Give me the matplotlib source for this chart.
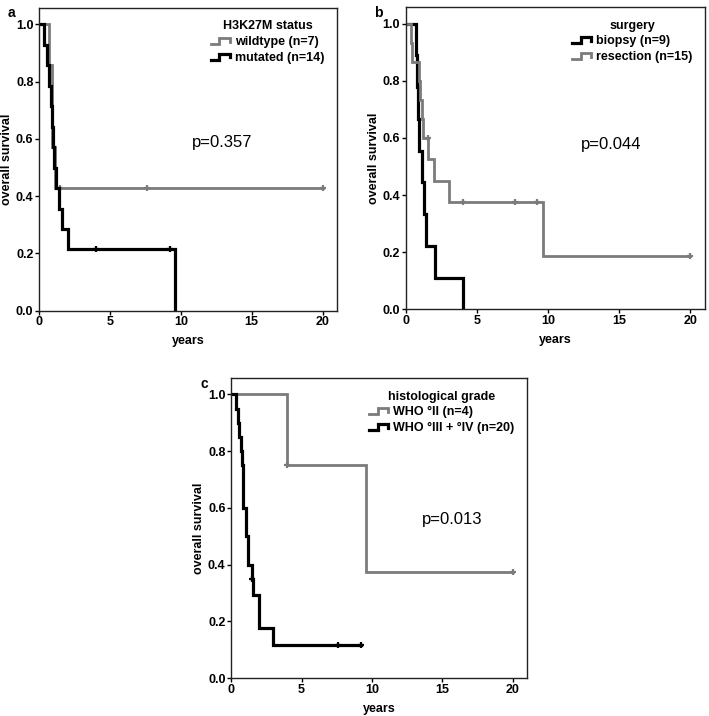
import matplotlib
matplotlib.use("Agg")
import matplotlib.pyplot as plt
from matplotlib.lines import Line2D
from matplotlib.legend_handler import HandlerLine2D

plt.rcParams['font.family'] = ['Liberation Sans', 'DejaVu Sans']

# survival times in years
# panel a: H3K27M status
wild_events = [0.73, 0.89, 0.89, 1.13]
wild_censored = [1.5, 7.6, 20.0]
mut_events = [0.38, 0.54, 0.73, 0.82, 0.89, 1.01, 1.08, 1.2, 1.43, 1.6, 2.02, 9.6]
mut_censored = [4.0, 9.25]

# panel b: surgery
biopsy_events = [0.7, 0.8, 0.85, 0.93, 1.16, 1.28, 1.46, 2.09, 4.06]
biopsy_censored = []
resec_events = [0.37, 0.45, 0.97, 1.0, 1.14, 1.22, 1.6, 2.0, 3.05, 9.63]
resec_censored = [1.55, 4.06, 7.66, 9.23, 20.0]

# panel c: histological grade
g2_events = [3.95, 9.61]
g2_censored = [4.0, 20.0]
g34_events = [0.35, 0.47, 0.59, 0.71, 0.8, 0.87, 0.87, 0.87, 1.04, 1.04,
              1.18, 1.18, 1.47, 1.58, 2.0, 2.0, 2.96]
g34_censored = [1.5, 7.6, 9.2]

x_ticks = [0, 5, 10, 15, 20]
y_ticks = [0.0, 0.2, 0.4, 0.6, 0.8, 1.0]

GRAY = '#7b7b7b'
BLACK = '#000000'


def km_curve(events, censored):
    times = sorted(set(events) | set(censored))
    n = len(events) + len(censored)
    s = 1.0
    xs, ys = [0.0], [1.0]
    cx, cy = [], []
    for t in times:
        d = events.count(t)
        c = censored.count(t)
        if d:
            s = s * (1 - d / n)
        xs.append(t)
        ys.append(s)
        if c:
            cx.append(t)
            cy.append(s)
        n -= d + c
    return xs, ys, cx, cy


class StepHandler(HandlerLine2D):
    # legend icon shaped like a little survival step
    def create_artists(self, legend, orig_handle, xdescent, ydescent,
                       width, height, fontsize, trans):
        x0 = -xdescent
        y0 = -ydescent
        xs = [x0, x0 + 0.45 * width, x0 + 0.45 * width, x0 + width, x0 + width]
        ys = [y0 + 0.15 * height, y0 + 0.15 * height, y0 + 0.8 * height,
              y0 + 0.8 * height, y0 + 0.4 * height]
        ln = Line2D(xs, ys, color=orig_handle.get_color(),
                    lw=orig_handle.get_linewidth(), solid_joinstyle='miter')
        ln.set_transform(trans)
        return [ln]


def draw_panel(ax, groups, title, pval, pxy, letter):
    handles = []
    for events, censored, color, lw, label in groups:
        xs, ys, cx, cy = km_curve(events, censored)
        ln, = ax.step(xs, ys, where='post', color=color, lw=lw,
                      solid_joinstyle='miter', label=label)
        ax.plot(cx, cy, ls='none', marker='+', ms=4, mew=1.6, color=color)
        handles.append(ln)
    ax.set_xlim(0, 21)
    ax.set_ylim(0, 1.058)
    ax.set_xticks(x_ticks)
    ax.set_yticks(y_ticks)
    ax.set_yticklabels(['%.1f' % v for v in y_ticks])
    ax.tick_params(direction='out', length=3, width=1, labelsize=9, pad=1)
    for lab in ax.get_xticklabels() + ax.get_yticklabels():
        lab.set_fontweight('bold')
    for sp in ax.spines.values():
        sp.set_linewidth(1.0)
        sp.set_color('#222222')
    ax.set_xlabel('years', fontsize=9, fontweight='bold', labelpad=5)
    ax.set_ylabel('overall survival', fontsize=9, fontweight='bold', labelpad=2)
    leg = ax.legend(handles=handles, title=title, loc='upper right',
                    frameon=False, fontsize=9, title_fontsize=9,
                    handlelength=1.5, handletextpad=0.4, labelspacing=0.3,
                    borderaxespad=0.6,
                    handler_map={Line2D: StepHandler()})
    leg.get_title().set_fontweight('bold')
    for t in leg.get_texts():
        t.set_fontweight('bold')
    ax.text(pxy[0], pxy[1], pval, fontsize=12, ha='center', va='center')
    ax.text(-0.105, 1.005, letter, transform=ax.transAxes, fontsize=10,
            fontweight='bold', ha='left', va='top')


fig = plt.figure(figsize=(7.09, 7.16), dpi=100)
ax_a = fig.add_axes([0.055, 0.566, 0.420, 0.423])
ax_b = fig.add_axes([0.572, 0.568, 0.422, 0.422])
ax_c = fig.add_axes([0.326, 0.053, 0.417, 0.419])

draw_panel(ax_a,
           [(wild_events, wild_censored, GRAY, 2.0, 'wildtype (n=7)'),
            (mut_events, mut_censored, BLACK, 2.3, 'mutated (n=14)')],
           'H3K27M status', 'p=0.357', (12.9, 0.587), 'a')
draw_panel(ax_b,
           [(biopsy_events, biopsy_censored, BLACK, 2.3, 'biopsy (n=9)'),
            (resec_events, resec_censored, GRAY, 2.0, 'resection (n=15)')],
           'surgery', 'p=0.044', (14.4, 0.577), 'b')
draw_panel(ax_c,
           [(g2_events, g2_censored, GRAY, 2.0, 'WHO °II (n=4)'),
            (g34_events, g34_censored, BLACK, 2.3, 'WHO °III + °IV (n=20)')],
           'histological grade', 'p=0.013', (15.7, 0.56), 'c')

fig.savefig('out.png', dpi=100)
